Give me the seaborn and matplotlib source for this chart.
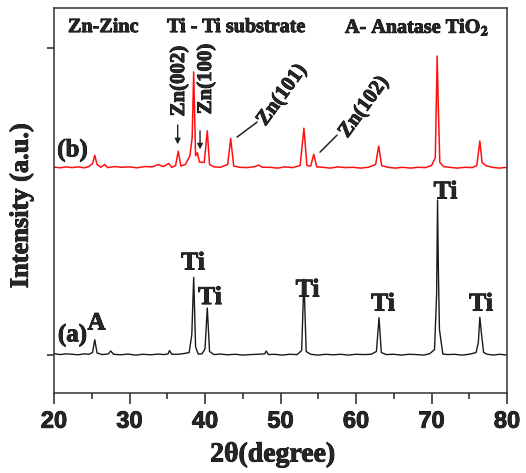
import numpy as np
import pandas as pd
import matplotlib
matplotlib.use('Agg')
import matplotlib.pyplot as plt
import matplotlib.patheffects as pe
import seaborn as sns

# XRD 数据
# (a) 钛基底上的 TiO2
black_x = [20.0, 20.8, 21.6, 22.4, 23.2, 24.0, 24.6, 25.1, 25.4, 25.7, 26.4, 27.2, 27.5, 27.9,
           28.8, 29.8, 30.8, 31.8, 32.8, 33.8, 34.6, 35.1, 35.3, 35.6, 36.4, 37.2, 37.9, 38.25,
           38.5, 38.75, 39.1, 39.6, 40.0, 40.3, 40.6, 41.2, 42.0, 43.0, 44.0, 45.0, 46.0, 47.0,
           47.9, 48.1, 48.4, 49.2, 50.2, 51.2, 52.2, 52.8, 53.1, 53.4, 54.0, 55.0, 56.0, 57.0,
           58.0, 59.0, 60.0, 61.0, 62.0, 62.7, 63.05, 63.35, 64.0, 65.0, 66.0, 67.0, 68.0, 69.0,
           69.8, 70.4, 70.68, 70.8, 70.9, 71.05, 71.5, 72.2, 73.0, 74.0, 75.0, 75.9, 76.2, 76.4,
           76.6, 76.9, 77.4, 78.2, 79.0, 80.0]
black_y = [15, 5, 12, 8, 3, 12, 8, 25, 150, 20, 5, 12, 40, 8,
           3, 10, 0, 8, 3, 10, 5, 12, 45, 8, 8, 15, 25, 200,
           760, 80, 10, 12, 60, 460, 35, 5, 10, 3, 8, 0, 5, 8,
           12, 40, 5, 8, 0, 8, 5, 45, 740, 35, 8, 0, 8, 3,
           8, 0, 8, 5, 8, 35, 365, 25, 5, 8, 0, 8, 5, 0,
           15, 55, 600, 1515, 870, 250, 10, 5, 8, 0, 8, 25, 120, 370,
           220, 25, 8, 0, 8, 0]

# (b) Zn 沉积后
red_x = [20.0, 20.8, 21.6, 22.4, 23.2, 24.0, 24.6, 25.1, 25.4, 25.7, 26.2, 26.7, 27.1, 28.0,
         29.0, 30.0, 31.0, 32.0, 33.0, 33.8, 34.5, 35.2, 35.6, 36.1, 36.45, 36.8, 37.4, 38.0,
         38.3, 38.5, 38.75, 39.0, 39.25, 39.9, 40.3, 40.6, 41.2, 42.0, 43.0, 43.4, 43.8, 44.6,
         45.6, 46.6, 47.1, 47.6, 48.6, 49.6, 50.6, 51.6, 52.6, 53.1, 53.5, 54.0, 54.4, 54.8,
         55.6, 56.6, 57.6, 58.6, 59.6, 60.6, 61.6, 62.6, 63.0, 63.4, 64.2, 65.2, 66.2, 67.2,
         68.2, 69.2, 70.0, 70.5, 70.75, 70.9, 71.1, 71.6, 72.4, 73.4, 74.4, 75.4, 76.0, 76.4,
         76.7, 77.2, 78.0, 79.0, 80.0]
red_y = [10, 3, 12, 5, 12, 3, 15, 45, 125, 35, 8, 35, 5, 15,
         8, 12, 3, 15, 12, 35, 15, 45, 8, 25, 165, 20, 35, 120,
         300, 940, 120, 150, 60, 55, 365, 35, 12, 8, 35, 290, 20, 8,
         5, 15, 30, 8, 8, 0, 12, 5, 25, 390, 25, 20, 135, 12,
         8, 0, 12, 5, 8, 0, 8, 35, 215, 25, 8, 0, 8, 0,
         8, 5, 25, 100, 1095, 600, 55, 15, 8, 0, 8, 5, 25, 265,
         55, 25, 8, 0, 8]
red_offset = 1827

ti_x = [38.41, 40.66, 53.58, 63.58, 71.85, 76.56]
ti_y = [899, 562, 635, 498, 1593, 498]

df_a = pd.DataFrame({'2theta': black_x, 'I': black_y})
df_b = pd.DataFrame({'2theta': red_x, 'I': np.array(red_y) + red_offset})

sns.set_style('ticks')
plt.rcParams['font.family'] = ['Liberation Serif', 'DejaVu Serif']
plt.rcParams['font.weight'] = 'bold'
plt.rcParams['mathtext.fontset'] = 'stix'

thick = [pe.withStroke(linewidth=0.6, foreground='black')]

fig = plt.figure(figsize=(5.26, 4.73), dpi=100)
ax = fig.add_axes([0.1027, 0.169, 0.8612, 0.814])

sns.lineplot(data=df_a, x='2theta', y='I', color='#1a1a1a', lw=1.0, estimator=None, sort=False, ax=ax)
sns.lineplot(data=df_b, x='2theta', y='I', color='#ff1010', lw=1.1, estimator=None, sort=False, ax=ax)

ax.set_xlim(20, 80)
ax.set_ylim(-371, 3391)
ax.set_xticks(range(20, 81, 10))
ax.set_xticks(range(25, 80, 10), minor=True)
ax.set_yticks([0, 3000])
ax.set_yticklabels([])
ax.tick_params(axis='x', which='major', length=8, width=1.1, direction='out', pad=4)
ax.tick_params(axis='x', which='minor', length=4, width=1.1, direction='out')
ax.tick_params(axis='y', length=5, width=1.1, direction='out')
for lab in ax.get_xticklabels():
    lab.set_fontfamily('Liberation Sans')
    lab.set_fontweight('bold')
    lab.set_fontsize(17)
    lab.set_path_effects(thick)
for sp in ax.spines.values():
    sp.set_linewidth(1.1)
    sp.set_color('#333333')

ax.set_xlabel('2θ(degree)', fontsize=20, fontweight='bold', path_effects=thick)
ax.xaxis.set_label_coords(0.483, -0.128)
ax.set_ylabel('Intensity (a.u.)', fontsize=19, fontweight='bold', path_effects=thick)
ax.yaxis.set_label_coords(-0.046, 0.486)

# 图例说明
ax.text(21.85, 3205, 'Zn-Zinc', fontsize=14.5, fontweight='bold', va='center', path_effects=thick)
ax.text(34.97, 3205, 'Ti - Ti substrate', fontsize=14.5, fontweight='bold', va='center', path_effects=thick)
ax.text(58.54, 3205, r'A- Anatase TiO$_\mathbf{2}$', fontsize=14.5, fontweight='bold', va='center',
        path_effects=thick)

ax.text(22.45, 2003, '(b)', fontsize=18, fontweight='bold', ha='center', va='center', path_effects=thick)
ax.text(22.45, 195, '(a)', fontsize=18, fontweight='bold', ha='center', va='center', path_effects=thick)
ax.text(25.63, 313, 'A', fontsize=18, fontweight='bold', ha='center', va='center', path_effects=thick)

for x, y in zip(ti_x, ti_y):
    ax.text(x, y, 'Ti', fontsize=18.5, fontweight='bold', ha='center', va='center', path_effects=thick)

# Zn 峰标注
ax.text(36.56, 2677, 'Zn(002)', fontsize=15, fontweight='bold', rotation=90, ha='center', va='center',
        path_effects=thick)
ax.annotate('', xy=(36.38, 2032), xytext=(36.38, 2276),
            arrowprops=dict(arrowstyle='-|>', color='#222222', lw=1, mutation_scale=8))
ax.text(40.13, 2697, 'Zn(100)', fontsize=15, fontweight='bold', rotation=90, ha='center', va='center',
        path_effects=thick)
ax.annotate('', xy=(39.34, 1983), xytext=(39.34, 2218),
            arrowprops=dict(arrowstyle='-|>', color='#222222', lw=1, mutation_scale=8))
ax.text(50.2, 2540, 'Zn(101)', fontsize=15, fontweight='bold', rotation=54, ha='center', va='center',
        path_effects=thick)
ax.plot([44.24, 46.89], [2130, 2276], color='#222222', lw=1.1)
ax.text(61.06, 2423, 'Zn(102)', fontsize=15, fontweight='bold', rotation=54, ha='center', va='center',
        path_effects=thick)
ax.plot([55.23, 57.48], [1983, 2149], color='#222222', lw=1.1)

plt.savefig('out.png', dpi=100)
